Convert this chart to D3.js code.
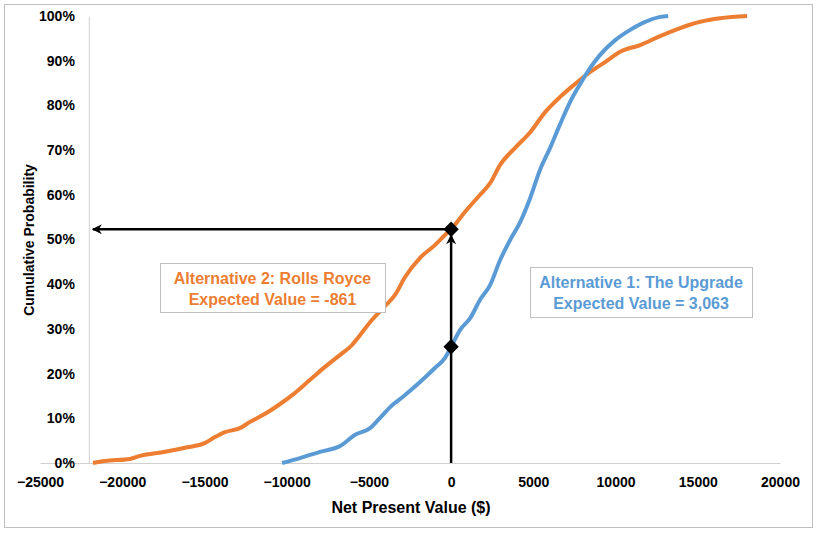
<!DOCTYPE html>
<html>
<head>
<meta charset="utf-8">
<script src="https://cdn.jsdelivr.net/npm/d3@7"></script>
<style>
  body { margin: 0; background: #fff; }
  text { font-family: "Liberation Sans", Arial, sans-serif; font-weight: bold; }
</style>
</head>
<body>
<script>
// Alternative 2: Rolls Royce (orange) - npv / cumulative probability
var royceNpv = [-21780, -21050, -19530, -18920, -17400, -16180, -14960, -14360, -13750, -12840, -12230,
  -11310, -10400, -9490, -8580, -7670, -6750, -6020, -5540, -4930, -4020, -3410, -2800, -1890, -970,
  -370, 0, 850, 1760, 2370, 2980, 3890, 4810, 5720, 6630, 7540, 8460, 9370, 10280, 11500, 12710,
  13930, 15150, 16360, 18000];
var royceProb = [0, 0.45, 0.9, 1.6, 2.5, 3.4, 4.5, 5.8, 6.9, 7.8, 9.2,
  11.0, 13.2, 15.7, 18.6, 21.5, 24.2, 26.4, 28.6, 31.5, 35.1, 37.6, 41.6, 45.9, 48.8,
  51.0, 52.3, 56.2, 60.0, 62.6, 66.7, 70.5, 74.0, 78.5, 81.9, 84.8, 87.5, 89.7, 92.0, 93.5, 95.5,
  97.3, 98.7, 99.5, 100];

// Alternative 1: The Upgrade (blue)
var upgradeNpv = [-10280, -9190, -7970, -6750, -5840, -4930, -4320, -3710, -2800, -1890, -970, -370,
  0, 550, 1160, 1760, 2370, 2980, 3590, 4200, 4810, 5410, 6020, 6630, 7240, 7850, 8460, 9060,
  9980, 10890, 11800, 12710, 13200];
var upgradeProb = [0, 1.1, 2.5, 3.8, 6.3, 7.8, 10.1, 12.5, 15.2, 18.1, 21.3, 23.5,
  26.0, 29.8, 32.4, 36.5, 39.8, 45.4, 49.9, 53.9, 59.3, 65.6, 70.5, 75.8, 80.8, 84.8, 88.4, 91.3,
  94.6, 96.9, 98.7, 99.8, 100];

var xTicks = [-25000, -20000, -15000, -10000, -5000, 0, 5000, 10000, 15000, 20000];
var yTicks = [0, 10, 20, 30, 40, 50, 60, 70, 80, 90, 100];

// expected-value markers
var markerX = 0;
var markerRoyce = 52.3;
var markerUpgrade = 26.0;
var yAxisCross = -22030;

var W = 817, H = 533;
var orange = "#ED7D31", blue = "#5B9BD5";

var svg = d3.select("body").append("svg")
  .attr("width", W)
  .attr("height", H);

// outer chart border
svg.append("rect")
  .attr("x", 4.5).attr("y", 4.5)
  .attr("width", 808).attr("height", 523)
  .attr("fill", "#fff")
  .attr("stroke", "#bfbfbf");

var x = d3.scaleLinear().domain([-25000, 20000]).range([40, 780]);
var y = d3.scaleLinear().domain([0, 100]).range([463, 16]);

svg.append("defs").append("marker")
  .attr("id", "arrow")
  .attr("viewBox", "0 0 10 10")
  .attr("refX", 9).attr("refY", 5)
  .attr("markerWidth", 5).attr("markerHeight", 4)
  .attr("orient", "auto")
  .append("path")
  .attr("d", "M0,0 L10,5 L0,10 L3,5 Z")
  .attr("fill", "#000");

// x axis
var xAxis = svg.append("g")
  .attr("transform", "translate(0," + y(0) + ")")
  .call(d3.axisBottom(x).tickValues(xTicks).tickSize(0).tickPadding(14).tickFormat(d3.format("d")));
xAxis.select(".domain").attr("stroke", "#d0d0d0");
xAxis.selectAll("text").attr("font-size", 14).attr("fill", "#000")
  .style("font-family", "'Liberation Sans', Arial, sans-serif");

// y axis
var yAxis = svg.append("g")
  .attr("transform", "translate(" + x(yAxisCross) + ",0)")
  .call(d3.axisLeft(y).tickValues(yTicks).tickSize(0).tickPadding(14).tickFormat(function(d) { return d + "%"; }));
yAxis.select(".domain").attr("stroke", "#d0d0d0");
yAxis.selectAll("text").attr("font-size", 14).attr("fill", "#000")
  .style("font-family", "'Liberation Sans', Arial, sans-serif");

// axis titles
svg.append("text")
  .attr("x", 411).attr("y", 513)
  .attr("text-anchor", "middle")
  .attr("font-size", 16)
  .text("Net Present Value ($)");

svg.append("text")
  .attr("transform", "translate(34,240) rotate(-90)")
  .attr("text-anchor", "middle")
  .attr("font-size", 14)
  .text("Cumulative Probability");

// curves
var line = d3.line()
  .x(function(d) { return x(d[0]); })
  .y(function(d) { return y(d[1]); })
  .curve(d3.curveMonotoneX);

svg.append("path")
  .datum(d3.zip(royceNpv, royceProb))
  .attr("d", line)
  .attr("fill", "none")
  .attr("stroke", orange)
  .attr("stroke-width", 4);

svg.append("path")
  .datum(d3.zip(upgradeNpv, upgradeProb))
  .attr("d", line)
  .attr("fill", "none")
  .attr("stroke", blue)
  .attr("stroke-width", 4);

// arrows
svg.append("line")
  .attr("x1", x(markerX)).attr("y1", y(markerRoyce))
  .attr("x2", x(yAxisCross) + 4).attr("y2", y(markerRoyce))
  .attr("stroke", "#000").attr("stroke-width", 2.5)
  .attr("marker-end", "url(#arrow)");

svg.append("line")
  .attr("x1", x(markerX)).attr("y1", y(0))
  .attr("x2", x(markerX)).attr("y2", y(markerRoyce) + 6)
  .attr("stroke", "#000").attr("stroke-width", 2.5)
  .attr("marker-end", "url(#arrow)");

// diamonds
svg.selectAll(".diamond")
  .data([markerRoyce, markerUpgrade])
  .enter().append("path")
  .attr("class", "diamond")
  .attr("d", d3.symbol().type(d3.symbolDiamond2).size(150))
  .attr("transform", function(d) { return "translate(" + x(markerX) + "," + y(d) + ")"; })
  .attr("fill", "#000");

// annotation boxes
function note(bx, by, bw, bh, color, lines) {
  svg.append("rect")
    .attr("x", bx + 0.5).attr("y", by + 0.5)
    .attr("width", bw).attr("height", bh)
    .attr("fill", "#fff")
    .attr("stroke", "#bfbfbf");
  svg.append("text")
    .attr("x", bx + bw / 2).attr("y", by + 21)
    .attr("text-anchor", "middle")
    .attr("font-size", 16)
    .attr("fill", color)
    .selectAll("tspan")
    .data(lines)
    .enter().append("tspan")
    .attr("x", bx + bw / 2)
    .attr("dy", function(d, i) { return i ? 21 : 0; })
    .text(function(d) { return d; });
}

note(160, 263, 225, 49, orange, ["Alternative 2: Rolls Royce", "Expected Value = -861"]);
note(530, 267, 222, 50, blue, ["Alternative 1: The Upgrade", "Expected Value = 3,063"]);
</script>
</body>
</html>
